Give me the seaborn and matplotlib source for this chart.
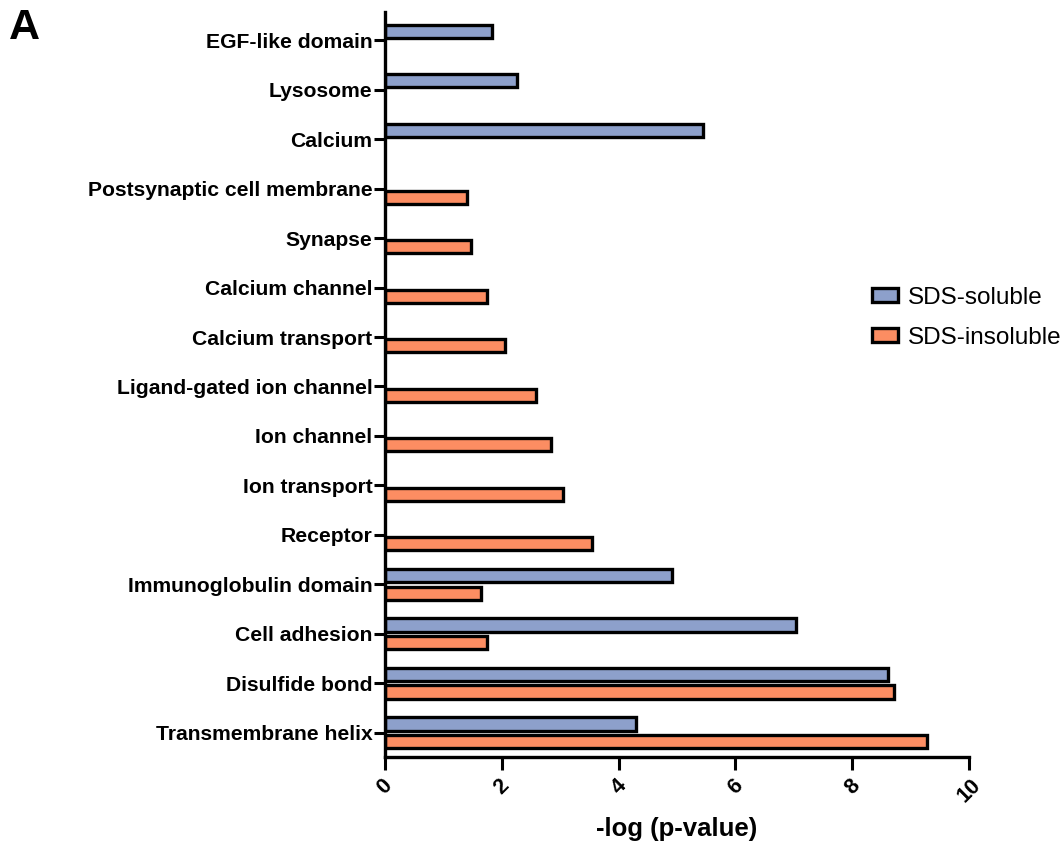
import numpy as np
import pandas as pd
import matplotlib
matplotlib.use("Agg")
import matplotlib.pyplot as plt
import seaborn as sns

# terms, top to bottom
terms = ["EGF-like domain", "Lysosome", "Calcium", "Postsynaptic cell membrane",
         "Synapse", "Calcium channel", "Calcium transport", "Ligand-gated ion channel",
         "Ion channel", "Ion transport", "Receptor", "Immunoglobulin domain",
         "Cell adhesion", "Disulfide bond", "Transmembrane helix"]

# -log(p-value), None = term not enriched in that fraction
soluble = [1.84, 2.26, 5.44, None, None, None, None, None,
           None, None, None, 4.92, 7.03, 8.62, 4.29]
insoluble = [None, None, None, 1.41, 1.48, 1.75, 2.06, 2.58,
             2.84, 3.04, 3.54, 1.64, 1.75, 8.72, 9.28]

groups = ["SDS-soluble", "SDS-insoluble"]
colors = ["#8DA0CB", "#FC8D62"]

rows = []
for t, s, i in zip(terms, soluble, insoluble):
    if s is not None:
        rows.append((t, groups[0], s))
    if i is not None:
        rows.append((t, groups[1], i))
df = pd.DataFrame(rows, columns=["term", "fraction", "value"])

sns.set_style("ticks")
plt.rcParams["font.family"] = ["Liberation Sans", "DejaVu Sans"]
plt.rcParams["text.color"] = "black"
plt.rcParams["axes.labelcolor"] = "black"
plt.rcParams["xtick.color"] = "black"
plt.rcParams["ytick.color"] = "black"
plt.rcParams["axes.edgecolor"] = "black"

fig = plt.figure(figsize=(10.64, 8.47), dpi=100)
ax = fig.add_axes([0.3618, 0.1063, 0.549, 0.8795])

sns.barplot(data=df, y="term", x="value", hue="fraction", order=terms,
            hue_order=groups, palette=colors, saturation=1, orient="h",
            width=0.71, gap=0.25, edgecolor="black", linewidth=2.4, ax=ax)

ax.set_xlim(0, 10)
ax.set_ylim(14.49, -0.57)
ax.set_xticks(np.arange(0, 11, 2))
ax.set_xticklabels([str(v) for v in range(0, 11, 2)], rotation=45, ha="center",
                   fontsize=15.5, fontweight="bold")
ax.set_yticklabels(terms, fontsize=15.2, fontweight="bold")
ax.set_ylabel("")
ax.set_xlabel("-log (p-value)", fontsize=18.5, fontweight="bold")
ax.xaxis.set_label_coords(0.5, -0.08)

for side in ["top", "right"]:
    ax.spines[side].set_visible(False)
for side in ["left", "bottom"]:
    ax.spines[side].set_linewidth(2.4)
ax.tick_params(axis="y", width=2.2, length=8, pad=1)
ax.tick_params(axis="x", width=2.2, length=9, pad=4)

handles, labels = ax.get_legend_handles_labels()
ax.legend(handles, labels, frameon=False, fontsize=17.5, loc="center left",
          bbox_to_anchor=(0.82, 0.625), bbox_transform=fig.transFigure,
          borderaxespad=0, borderpad=0,
          handlelength=1.05, handleheight=0.55, labelspacing=0.75, handletextpad=0.4)

fig.text(0.008, 0.99, "A", fontsize=31, fontweight="bold", va="top", ha="left")

fig.savefig("out.png", dpi=100)
